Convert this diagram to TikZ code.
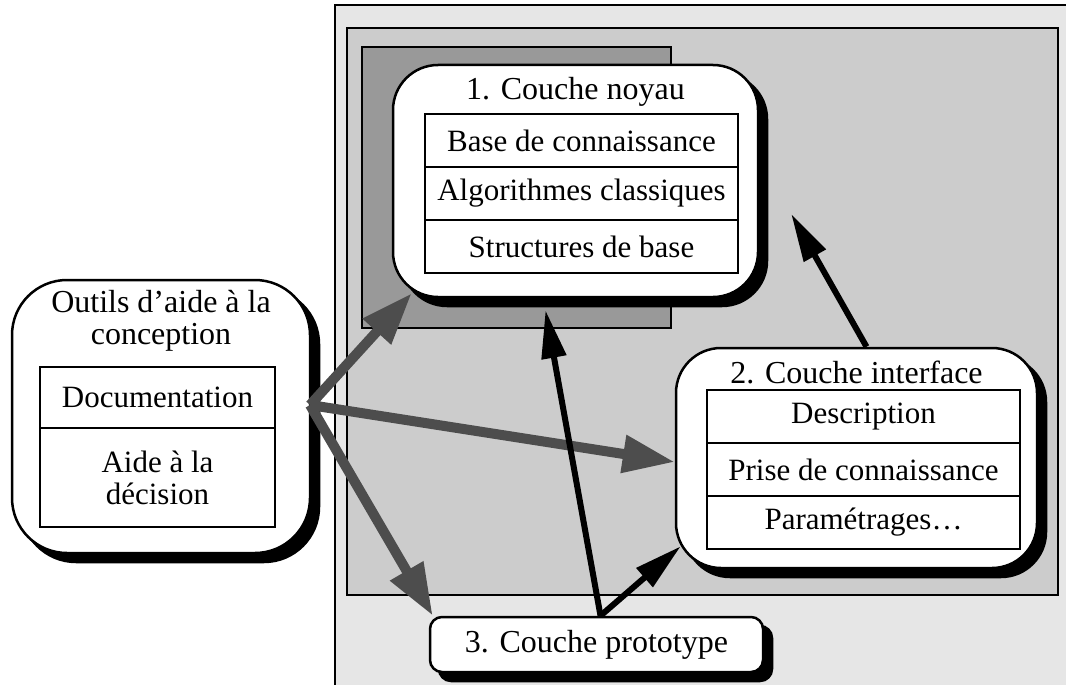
\documentclass[tikz,border=0pt]{standalone}
\usepackage{fontspec}
\setmainfont{Liberation Serif}
\usepackage{tikz}
\usetikzlibrary{positioning,arrows.meta,shadows}
\definecolor{PaleGrey}{HTML}{E6E6E6}
\definecolor{MidGrey}{HTML}{CCCCCC}
\definecolor{DarkGrey}{HTML}{999999}
\definecolor{ArrowGrey}{HTML}{4D4D4D}

\begin{document}
\begin{tikzpicture}[x=1pt,y=-1pt,
        plane/.style={draw,line width=2pt},
        card/.style={draw,line width=2.5pt,fill=white,rounded corners=45pt,
                     drop shadow={fill=black,draw=black,opacity=1,shadow xshift=9pt,shadow yshift=-9pt}},
        title/.style={inner sep=0pt,align=center,font=\fontsize{32}{32}\selectfont},
        cell/.style={draw,line width=2pt,fill=white,minimum width=313pt,minimum height=53pt,
                     inner sep=0pt,outer sep=0pt,align=center,font=\fontsize{31}{32}\selectfont},
        greyarr/.style={-{Triangle[length=52pt,width=36pt]},line width=10pt,ArrowGrey},
        blackarr/.style={-{Triangle[length=48pt,width=24pt]},line width=6pt}
      ]
        \useasboundingbox (0,0) rectangle (1066,685);
        % nested layers
        \draw[plane,fill=PaleGrey] (335,5) rectangle (1080,700);
        \draw[plane,fill=MidGrey] (347,28) rectangle (1058,595);
        \draw[plane,fill=DarkGrey] (362,47) rectangle (671,328);

        % 1. noyau
        \node[card,minimum width=365pt,minimum height=232pt] (noyau) at (575.5,181) {};
        \node[title] (noyautitle) at (575.5,92) {1. Couche noyau};
        \node[cell,anchor=north] (base) at (581.5,114) {Base de connaissance};
        \node[cell,below=0pt of base] (algo) {Algorithmes classiques};
        \node[cell,below=0pt of algo] (struct) {Structures de base};

        % 2. interface
        \node[card,minimum width=361pt,minimum height=220pt] (interface) at (856.5,458) {};
        \node[title] (interfacetitle) at (856.5,372) {2. Couche interface};
        \node[cell,anchor=north] (descr) at (863.5,390) {Description};
        \node[cell,below=0pt of descr] (prise) {Prise de connaissance};
        \node[cell,below=0pt of prise] (param) {Paramétrages…};

        % outils
        \node[card,rounded corners=55pt,minimum width=298pt,minimum height=273pt] (outils) at (161,416.5) {};
        \node[title] (outilstitle) at (161,321) {Outils d’aide à la\\conception};
        \node[cell,anchor=north,minimum width=235pt,minimum height=61pt] (doc) at (157.5,367) {Documentation};
        \node[cell,below=0pt of doc,minimum width=235pt,minimum height=99pt] (aide) {Aide à la\\décision};

        % 3. prototype
        \node[card,rounded corners=12pt,minimum width=333pt,minimum height=55pt,
              font=\fontsize{32}{32}\selectfont] (proto) at (596.5,644.5) {3. Couche prototype};

        % connectors
        \coordinate (hub) at (310,405);
        \draw[greyarr] (hub) -- ([xshift=20pt,yshift=5pt]noyau.south west);
        \draw[greyarr] (hub) -- ([yshift=-4pt]interface.west);
        \draw[greyarr] (hub) -- ([xshift=4pt]proto.north west);
        \draw[blackarr] ([xshift=4pt]proto.north) -- ([xshift=-30pt,yshift=-12pt]noyau.south);
        \draw[blackarr] ([xshift=4pt]proto.north) -- ([xshift=6pt,yshift=23pt]interface.south west);
        \draw[blackarr] ([xshift=10pt]interface.north) -- ([xshift=32pt,yshift=-33pt]noyau.east);
      \end{tikzpicture}
\end{document}
